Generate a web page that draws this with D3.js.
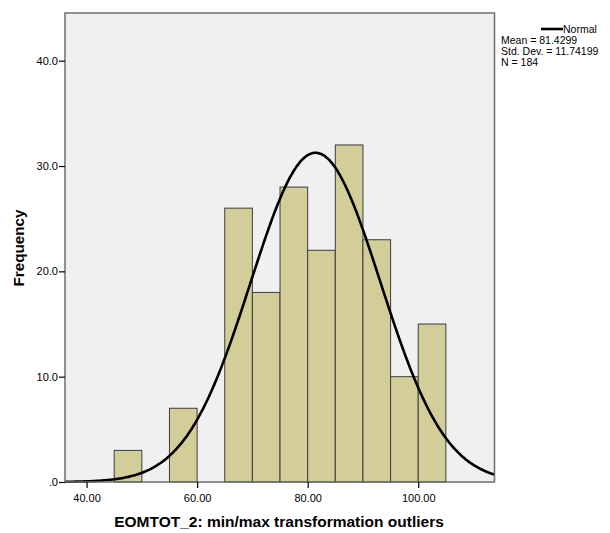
<!DOCTYPE html>
<html>
<head>
<meta charset="utf-8">
<script src="https://cdn.jsdelivr.net/npm/d3@7"></script>
<style>
  html, body { margin: 0; padding: 0; background: #fff; }
  svg { display: block; font-family: Arial, "Liberation Sans", sans-serif; }
</style>
</head>
<body>
<svg id="chart" width="610" height="533"></svg>
<script>
// Histogram bins (lower edge, width 5) and counts
const binStarts = [45, 50, 55, 60, 65, 70, 75, 80, 85, 90, 95, 100];
const binCounts = [3, 0, 7, 0, 26, 18, 28, 22, 32, 23, 10, 15];
const binWidth = 5;

// Fitted normal summary
const mean = 81.4299;
const stdDev = 11.74199;
const n = 184;

const xTicks = [40, 60, 80, 100];
const yTicks = [0, 10, 20, 30, 40];

const svg = d3.select("#chart");
const plot = { left: 65, top: 13, right: 494.5, bottom: 482 };

const x = d3.scaleLinear().domain([36.1, 113.8]).range([plot.left, plot.right]);
const y = d3.scaleLinear().domain([0, 40]).range([plot.bottom, 60.7]);

// plot background
svg.append("rect")
  .attr("x", plot.left).attr("y", plot.top)
  .attr("width", plot.right - plot.left).attr("height", plot.bottom - plot.top)
  .attr("fill", "#f0f0f0");

// bars
svg.append("g").selectAll("rect")
  .data(binStarts.map((s, i) => ({ s, c: binCounts[i] })).filter(d => d.c > 0))
  .join("rect")
  .attr("x", d => x(d.s))
  .attr("y", d => y(d.c))
  .attr("width", d => x(d.s + binWidth) - x(d.s))
  .attr("height", d => y(0) - y(d.c))
  .attr("fill", "#d3ce97")
  .attr("stroke", "#3c3c3c")
  .attr("stroke-width", 1);

// normal curve scaled to counts
const scale = n * binWidth / (stdDev * Math.sqrt(2 * Math.PI));
const curvePts = d3.range(0, 401).map(i => {
  const v = 36.1 + (113.8 - 36.1) * i / 400;
  return [v, scale * Math.exp(-0.5 * ((v - mean) / stdDev) ** 2)];
});
svg.append("path")
  .datum(curvePts)
  .attr("fill", "none")
  .attr("stroke", "#000")
  .attr("stroke-width", 2.6)
  .attr("d", d3.line().x(d => x(d[0])).y(d => y(d[1])).curve(d3.curveBasis));

// frame
svg.append("rect")
  .attr("x", plot.left).attr("y", plot.top)
  .attr("width", plot.right - plot.left).attr("height", plot.bottom - plot.top)
  .attr("fill", "none")
  .attr("stroke", "#6e6e6e")
  .attr("stroke-width", 1.5);

// axes
const yAxis = d3.axisLeft(y).tickValues(yTicks).tickSize(6).tickPadding(1)
  .tickFormat(d => d === 0 ? ".0" : d3.format(".1f")(d));
svg.append("g").attr("transform", `translate(${plot.left},0)`).call(yAxis)
  .call(g => g.select(".domain").remove())
  .call(g => g.selectAll("line").attr("stroke", "#000").attr("stroke-width", 1.2))
  .call(g => g.selectAll("text").attr("font-size", 11).attr("fill", "#000"));

const xAxis = d3.axisBottom(x).tickValues(xTicks).tickSize(6).tickPadding(6)
  .tickFormat(d3.format(".2f"));
svg.append("g").attr("transform", `translate(0,${plot.bottom})`).call(xAxis)
  .call(g => g.select(".domain").remove())
  .call(g => g.selectAll("line").attr("stroke", "#000").attr("stroke-width", 1.2))
  .call(g => g.selectAll("text").attr("font-size", 11).attr("fill", "#000"));

// axis titles
svg.append("text")
  .attr("x", 279).attr("y", 527)
  .attr("text-anchor", "middle")
  .attr("font-size", 15.5).attr("font-weight", "bold")
  .text("EOMTOT_2: min/max transformation outliers");

svg.append("text")
  .attr("transform", "translate(24,248) rotate(-90)")
  .attr("text-anchor", "middle")
  .attr("font-size", 15.2).attr("font-weight", "bold")
  .text("Frequency");

// legend
const lg = svg.append("g").attr("font-size", 10.5).attr("fill", "#000");
lg.append("line").attr("x1", 541).attr("x2", 563).attr("y1", 29).attr("y2", 29)
  .attr("stroke", "#000").attr("stroke-width", 2.6);
lg.append("text").attr("x", 563).attr("y", 33).text("Normal");
lg.append("text").attr("x", 501).attr("y", 44).text(`Mean = ${mean}`);
lg.append("text").attr("x", 501).attr("y", 55).text(`Std. Dev. = ${stdDev}`);
lg.append("text").attr("x", 501).attr("y", 66).text(`N = ${n}`);
</script>
</body>
</html>
